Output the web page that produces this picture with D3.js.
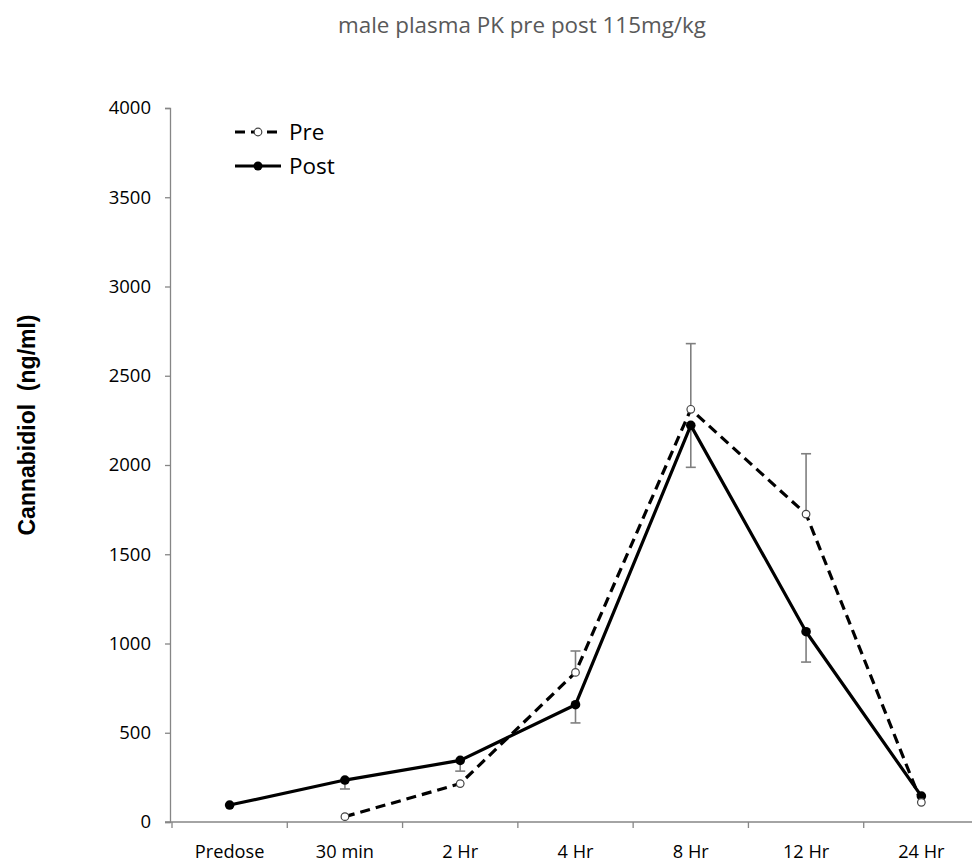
<!DOCTYPE html>
<html>
<head>
<meta charset="utf-8">
<script src="https://cdn.jsdelivr.net/npm/d3@7"></script>
<style>
  html, body { margin: 0; padding: 0; background: #fff; overflow: hidden; }
  svg { display: block; }
</style>
</head>
<body>
<div id="chart"></div>
<script>
// Sampling time points
const timepoints = ["Predose", "30 min", "2 Hr", "4 Hr", "8 Hr", "12 Hr", "24 Hr"];

// Mean plasma cannabidiol (ng/ml); null = not measured
const preMean  = [null, 30, 215, 838, 2312, 1725, 110];
const postMean = [95, 235, 345, 657, 2222, 1066, 145];

// One-sided error bars (Pre drawn upward, Post drawn downward)
const preErr  = [null, null, null, 120, 368, 338, null];
const postErr = [null, 50, 60, 102, 235, 170, null];

const yTicks = [0, 500, 1000, 1500, 2000, 2500, 3000, 3500, 4000];

const W = 972, H = 868;
const svg = d3.select("#chart").append("svg").attr("width", W).attr("height", H);

const x = d3.scaleBand().domain(timepoints).range([172, 979]);
const y = d3.scaleLinear().domain([0, 4000]).range([822, 108]);
const cx = d => x(d) + x.bandwidth() / 2;

const axisColor = "#868686";
const tickFont = "'Open Sans', 'Liberation Sans', sans-serif";

// Title
svg.append("text")
  .attr("x", 522).attr("y", 33)
  .attr("text-anchor", "middle")
  .attr("font-family", tickFont)
  .attr("font-size", 22.4)
  .attr("fill", "#595959")
  .text("male plasma PK pre post 115mg/kg");

// Y axis
const yAxis = svg.append("g")
  .attr("transform", "translate(170,0)")
  .call(d3.axisLeft(y).tickValues(yTicks).tickSize(5).tickPadding(14).tickFormat(d3.format("d")));
yAxis.select(".domain").attr("stroke", axisColor).attr("stroke-width", 1.3);
yAxis.selectAll(".tick line").attr("stroke", axisColor).attr("stroke-width", 1.3);
yAxis.selectAll(".tick text")
  .attr("font-family", tickFont).attr("font-size", 18.5).attr("fill", "#000");

// X axis: ticks sit between categories
const xAxis = svg.append("g").attr("transform", "translate(0,822)");
xAxis.append("line")
  .attr("x1", 165).attr("x2", 979)
  .attr("stroke", axisColor).attr("stroke-width", 1.3);
xAxis.selectAll("line.tk")
  .data(timepoints)
  .join("line").attr("class", "tk")
  .attr("x1", d => x(d)).attr("x2", d => x(d))
  .attr("y1", 0).attr("y2", 6)
  .attr("stroke", axisColor).attr("stroke-width", 1.3);
xAxis.selectAll("text")
  .data(timepoints)
  .join("text")
  .attr("x", d => cx(d)).attr("y", 36)
  .attr("text-anchor", "middle")
  .attr("font-family", tickFont).attr("font-size", 18.2).attr("fill", "#000")
  .text(d => d);

// Y axis title
svg.append("text")
  .attr("transform", "translate(35,425) rotate(-90)")
  .attr("text-anchor", "middle")
  .attr("font-family", "'Liberation Sans', Arial, sans-serif")
  .attr("font-weight", "bold")
  .attr("font-size", 23)
  .attr("xml:space", "preserve")
  .style("white-space", "pre")
  .text("Cannabidiol  (ng/ml)");

// Error bars
function errorBars(means, errs, dir) {
  const rows = timepoints.map((t, i) => ({ t, m: means[i], e: errs[i] }))
    .filter(r => r.m != null && r.e != null);
  const g = svg.append("g").attr("stroke", "#7f7f7f").attr("stroke-width", 1.6);
  g.selectAll("line.v").data(rows).join("line").attr("class", "v")
    .attr("x1", r => cx(r.t)).attr("x2", r => cx(r.t))
    .attr("y1", r => y(r.m)).attr("y2", r => y(r.m + dir * r.e));
  g.selectAll("line.c").data(rows).join("line").attr("class", "c")
    .attr("x1", r => cx(r.t) - 5).attr("x2", r => cx(r.t) + 5)
    .attr("y1", r => y(r.m + dir * r.e)).attr("y2", r => y(r.m + dir * r.e));
}
errorBars(preMean, preErr, 1);
errorBars(postMean, postErr, -1);

const line = d3.line()
  .defined(d => d.v != null)
  .x(d => cx(d.t)).y(d => y(d.v));

const preData = timepoints.map((t, i) => ({ t, v: preMean[i] }));
const postData = timepoints.map((t, i) => ({ t, v: postMean[i] }));

// Post series (solid, filled markers)
svg.append("path").datum(postData)
  .attr("d", line).attr("fill", "none")
  .attr("stroke", "#000").attr("stroke-width", 3.2).attr("stroke-linejoin", "round");
svg.selectAll("circle.post").data(postData.filter(d => d.v != null))
  .join("circle").attr("class", "post")
  .attr("cx", d => cx(d.t)).attr("cy", d => y(d.v)).attr("r", 4.8)
  .attr("fill", "#000");

// Pre series (dashed, open markers)
svg.append("path").datum(preData)
  .attr("d", line).attr("fill", "none")
  .attr("stroke", "#000").attr("stroke-width", 3.2)
  .attr("stroke-dasharray", "10,6");
svg.selectAll("circle.pre").data(preData.filter(d => d.v != null))
  .join("circle").attr("class", "pre")
  .attr("cx", d => cx(d.t)).attr("cy", d => y(d.v)).attr("r", 3.8)
  .attr("fill", "#fff").attr("stroke", "#444").attr("stroke-width", 1.2);

// Legend
const legend = [
  { name: "Pre", dash: "10,6", open: true, ly: 132 },
  { name: "Post", dash: null, open: false, ly: 166 }
];
const lg = svg.append("g");
legend.forEach(l => {
  lg.append("line")
    .attr("x1", 235).attr("x2", 281).attr("y1", l.ly).attr("y2", l.ly)
    .attr("stroke", "#000").attr("stroke-width", 3.2)
    .attr("stroke-dasharray", l.dash);
  lg.append("circle")
    .attr("cx", 258).attr("cy", l.ly).attr("r", l.open ? 3.8 : 4.5)
    .attr("fill", l.open ? "#fff" : "#000")
    .attr("stroke", l.open ? "#444" : "none").attr("stroke-width", 1.2);
  lg.append("text")
    .attr("x", 289).attr("y", l.ly + 8)
    .attr("font-family", tickFont).attr("font-size", 22.5).attr("fill", "#000")
    .text(l.name);
});
</script>
</body>
</html>
